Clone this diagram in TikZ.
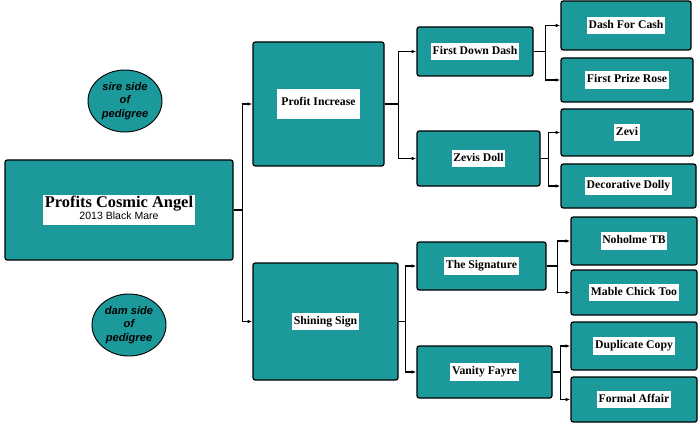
\documentclass[tikz,border=0pt]{standalone}
\usepackage{fontspec}
\setmainfont{Liberation Serif}
\newfontfamily\lsans{Liberation Sans}
\definecolor{teal1}{HTML}{1C9A9B}
\setlength{\fboxsep}{1.5pt}
\newcommand{\wl}[1]{\colorbox{white}{\bfseries\strut #1}}
\begin{document}
\begin{tikzpicture}[x=0.03cm,y=-0.03cm,
  box/.style={draw=black,line width=1.1pt,fill=teal1,rounded corners=2pt,inner sep=0pt,font=\fontsize{10}{12}\selectfont},
  ell/.style={draw=black,line width=0.8pt,fill=teal1,ellipse,inner sep=0pt,font=\lsans\bfseries\itshape\fontsize{9.5}{11.5}\selectfont,align=center},
  ln/.style={draw=black,line width=0.9pt},
  arr/.style={ln,-{Latex[length=4pt,width=3pt]}}]
\usetikzlibrary{arrows.meta,shapes.geometric}
\fill[white] (0,0) rectangle (700,425);
\useasboundingbox (0,0) rectangle (700,425);
\newcommand{\bx}[6]{\node[box,minimum width={(#4-#2)*0.03cm},minimum height={(#5-#3)*0.03cm}] (#1) at ({(#2+#4)/2},{(#3+#5)/2}) {#6};}
\bx{main}{5}{160}{233}{260}{\colorbox{white}{\begin{tabular}{@{}c@{}}\fontsize{14}{15}\selectfont\bfseries Profits Cosmic Angel\\[-2pt]\lsans\fontsize{9}{10}\selectfont 2013 Black Mare\end{tabular}}}
\bx{pi}{253}{42}{384}{166}{\colorbox{white}{\bfseries\rule[-10pt]{0pt}{22pt}\ Profit Increase\ }}
\bx{ss}{253}{263}{398}{380}{\wl{Shining Sign}}
\bx{fdd}{417}{27}{533}{76}{\wl{First Down Dash}}
\bx{zd}{417}{131}{540}{186}{\wl{Zevis Doll}}
\bx{ts}{417}{242}{546}{290}{\wl{The Signature}}
\bx{vf}{417}{346}{552}{398}{\wl{Vanity Fayre}}
\bx{dfc}{561}{1}{691}{50}{\wl{Dash For Cash}}
\bx{fpr}{561}{58}{693}{102}{\wl{First Prize Rose}}
\bx{zevi}{561}{109}{693}{156}{\wl{Zevi}}
\bx{dd}{561}{164}{696}{208}{\wl{Decorative Dolly}}
\bx{ntb}{571}{217}{697}{265}{\wl{Noholme TB}}
\bx{mct}{571}{270}{697}{315}{\wl{Mable Chick Too}}
\bx{dc}{571}{322}{697}{370}{\wl{Duplicate Copy}}
\bx{fa}{571}{377}{697}{422}{\wl{Formal Affair}}
\node[ell,minimum width={74*0.03cm},minimum height={62*0.03cm}] (sire) at (125,101) {sire side\\of\\pedigree};
\node[ell,minimum width={74*0.03cm},minimum height={62*0.03cm}] (dam) at (129,325) {dam side\\of\\pedigree};
\newcommand{\br}[4]{\draw[ln] (#1.east) -- ++(#2,0) coordinate (j#1); \draw[arr] (j#1) |- (#3.west); \draw[arr] (j#1) |- (#4.west);}
\br{main}{9}{pi}{ss}
\br{pi}{14}{fdd}{zd}
\br{ss}{7}{ts}{vf}
\br{fdd}{12}{dfc}{fpr}
\br{zd}{8}{zevi}{dd}
\br{ts}{11}{ntb}{mct}
\br{vf}{8}{dc}{fa}
\end{tikzpicture}
\end{document}
